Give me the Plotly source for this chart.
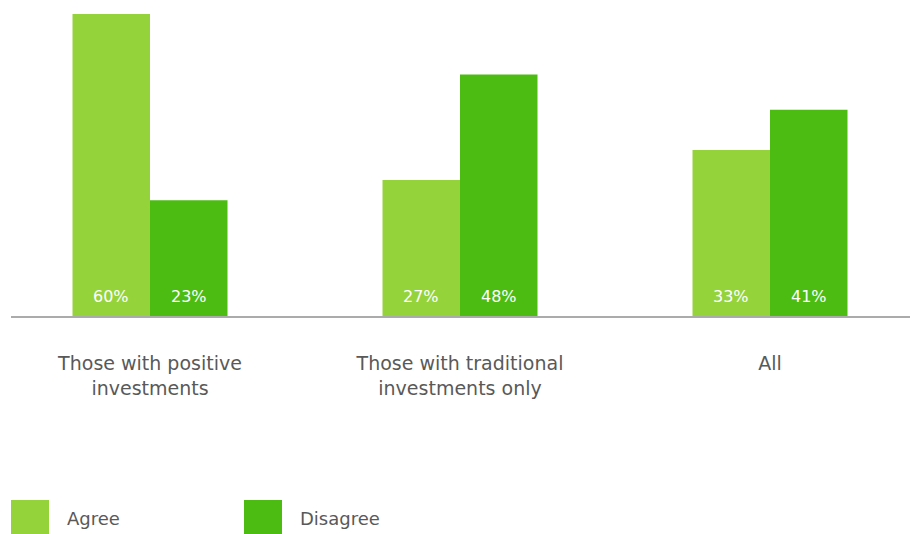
import plotly.graph_objects as go

# Survey responses by investor group (percent of respondents)
categories = ["Those with positive<br>investments",
              "Those with traditional<br>investments only",
              "All"]
series_names = ["Agree", "Disagree"]
agree = [60, 27, 33]
disagree = [23, 48, 41]

colors = ["#95D33A", "#4CBC13"]
text_gray = "#595959"
font_family = "DejaVu Sans, Verdana, sans-serif"

W, H = 916, 534
margin = dict(l=11, r=6, t=0, b=218)
plot_w = W - margin["l"] - margin["r"]
plot_h = H - margin["t"] - margin["b"]

fig = go.Figure()
for name, vals, col in zip(series_names, [agree, disagree], colors):
    fig.add_trace(go.Bar(
        name=name, x=categories, y=vals,
        marker=dict(color=col, line=dict(width=0)),
        showlegend=False,
    ))

# value labels sitting near the base of each bar
bar_px = 0.25 * 310
for k, vals in enumerate([agree, disagree]):
    shift = (-0.5 + k) * bar_px
    for cat, v in zip(categories, vals):
        fig.add_annotation(
            x=cat, y=0, xref="x", yref="y",
            text=f"{v}%", showarrow=False,
            xshift=shift, yshift=20, yanchor="middle",
            font=dict(family=font_family, size=16, color="white"),
        )

# custom legend: large swatches with labels
def px_x(p):
    return (p - margin["l"]) / plot_w

def px_y(p):
    return (margin["t"] + plot_h - p) / plot_h

legend_x = [11, 244]
for name, col, lx in zip(series_names, colors, legend_x):
    fig.add_shape(type="rect", xref="paper", yref="paper",
                  x0=px_x(lx), x1=px_x(lx + 38),
                  y0=px_y(534), y1=px_y(500),
                  fillcolor=col, line=dict(width=0))
    fig.add_annotation(
        x=px_x(lx + 54), y=px_y(518), xref="paper", yref="paper",
        text=name, showarrow=False, xanchor="left", yanchor="middle",
        font=dict(family=font_family, size=18, color=text_gray),
    )

fig.update_layout(
    width=W, height=H,
    margin=margin,
    paper_bgcolor="white", plot_bgcolor="white",
    barmode="group", bargap=0.5, bargroupgap=0,
    font=dict(family=font_family, size=18, color=text_gray),
    xaxis=dict(
        range=[-139 / 310, (plot_w - 139) / 310],
        showline=True, linecolor="#ABABAB", linewidth=2,
        ticks="outside", ticklen=29, tickcolor="rgba(0,0,0,0)",
        tickfont=dict(family=font_family, size=19, color=text_gray),
        showgrid=False, zeroline=False,
    ),
    yaxis=dict(
        range=[0, 60 * plot_h / 302],
        visible=False, showgrid=False, zeroline=False,
    ),
)

fig.write_html("out.html")
